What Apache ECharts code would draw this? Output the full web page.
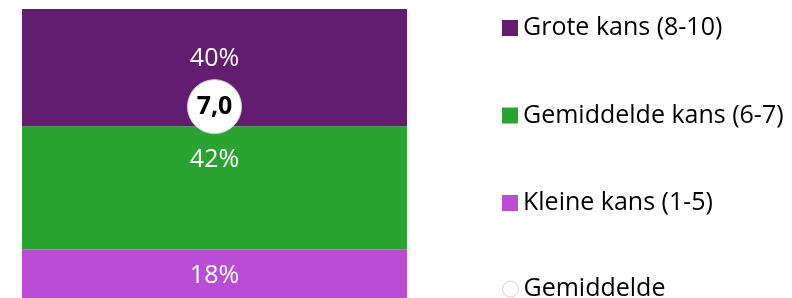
<!DOCTYPE html>
<html><head><meta charset="utf-8">
<script src="https://cdn.jsdelivr.net/npm/echarts@6/dist/echarts.min.js"></script>
<style>html,body{margin:0;padding:0;background:#fff}#c{width:792px;height:298px}</style>
</head><body><div id="c"></div>
<script>
const categories = ['Totaal'];
const seriesNames = ['Grote kans (8-10)', 'Gemiddelde kans (6-7)', 'Kleine kans (1-5)', 'Gemiddelde'];
const groteKans = [40];
const gemiddeldeKans = [42];
const kleineKans = [18];
const gemiddelde = [7.0];

const FONT = '"Open Sans", "Noto Sans", sans-serif';
const chart = echarts.init(document.getElementById('c'), null, {renderer: 'canvas'});
const pctLabel = (offsetY) => ({
  show: true, position: 'inside', offset: [0, offsetY],
  color: '#ffffff', fontFamily: FONT, fontSize: 25,
  formatter: p => p.value + '%'
});
const legendText = {color: '#000', fontFamily: FONT, fontSize: 25, lineHeight: 26};
chart.setOption({
  animation: false,
  grid: {left: 22, top: 9, width: 385, height: 293, containLabel: false, outerBoundsMode: 'none'},
  legend: [{
    orient: 'vertical', left: 497, top: 10, itemWidth: 16, itemHeight: 16, itemGap: 61.5,
    data: [
      {name: seriesNames[0], icon: 'rect'},
      {name: seriesNames[1], icon: 'rect'},
      {name: seriesNames[2], icon: 'rect'}
    ],
    textStyle: legendText, selectedMode: false
  }, {
    orient: 'vertical', left: 497, top: 271, itemWidth: 16, itemHeight: 16,
    data: [
      {name: seriesNames[3], icon: 'circle', itemStyle: {color: '#ffffff', borderColor: '#d0d0d0', borderWidth: 1}}
    ],
    textStyle: legendText, selectedMode: false
  }],
  xAxis: {type: 'category', data: categories, show: false},
  yAxis: [
    {type: 'value', min: 0, max: 100, show: false},
    {type: 'value', min: 1, max: 10, show: false}
  ],
  series: [
    {name: seriesNames[2], type: 'bar', stack: 't', data: kleineKans, barWidth: '100%',
     itemStyle: {color: '#BA4CD5'}, label: pctLabel(0)},
    {name: seriesNames[1], type: 'bar', stack: 't', data: gemiddeldeKans, barWidth: '100%',
     itemStyle: {color: '#29A432'}, label: pctLabel(-28)},
    {name: seriesNames[0], type: 'bar', stack: 't', data: groteKans, barWidth: '100%',
     itemStyle: {color: '#621D71'}, label: pctLabel(-9)},
    {name: seriesNames[3], type: 'scatter', yAxisIndex: 1, data: gemiddelde, symbol: 'circle', symbolSize: 54, z: 10,
     itemStyle: {color: '#ffffff', borderColor: '#d0d0d0', borderWidth: 1, opacity: 1},
     label: {show: true, position: 'inside', color: '#000', fontFamily: FONT, fontWeight: 'bold', fontSize: 25,
       formatter: p => p.value.toFixed(1).replace('.', ',')}}
  ]
});
</script></body></html>
